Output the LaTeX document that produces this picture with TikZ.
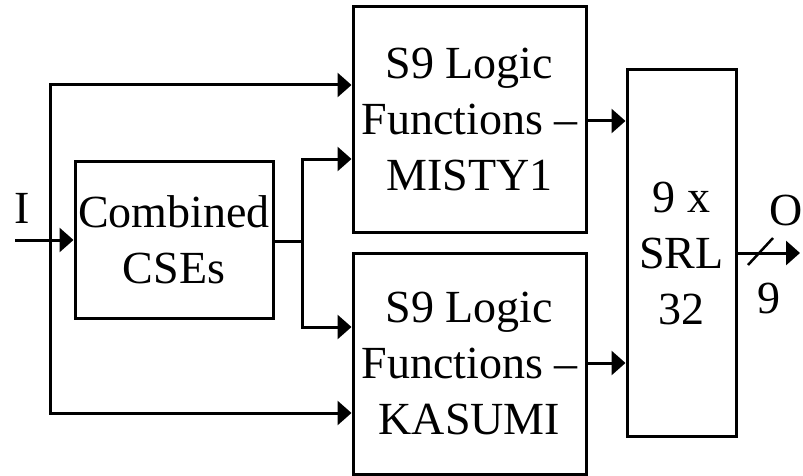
\documentclass[tikz,border=0pt]{standalone}
\usepackage{fontspec}
\setmainfont{Liberation Serif}
\usetikzlibrary{arrows.meta}
\begin{document}
\begin{tikzpicture}[x=1pt,y=-1pt,
  line width=3pt,
  font=\fontsize{46}{56}\selectfont,
  blk/.style={draw, rectangle, inner sep=0pt, align=center},
  arr/.style={-{Triangle[length=14pt,width=24pt]}},
  lbl/.style={inner sep=0pt}]
\useasboundingbox (0,0) rectangle (803,476);

% processing blocks
\node[blk, minimum width=198pt, minimum height=157pt] (cse) at (174,239.5) {Combined\\CSEs};
\node[blk, minimum width=233pt, minimum height=225pt] (misty) at (469.5,119.5) {S9 Logic\\Functions --\\MISTY1};
\node[blk, minimum width=233pt, minimum height=221pt] (kasumi) at (469.5,363.5) {S9 Logic\\Functions --\\KASUMI};
\node[blk, minimum width=109pt, minimum height=366pt] (srl) at (681.5,253) {9 x\\SRL\\32};

% input side
\coordinate (in) at (15,240);
\coordinate (fork) at (50,240);
\coordinate (top) at (50,85);
\coordinate (bot) at (50,413);
\node[lbl] (ilbl) at (22,208) {I};
\draw[arr] (in) -- (cse.west |- in);
\draw[arr] (fork) -- (top) -- (misty.west |- top);
\draw[arr] (fork) -- (bot) -- (kasumi.west |- bot);

% combined CSE outputs
\coordinate (cout) at (302,241);
\coordinate (cup) at (302,159);
\coordinate (cdn) at (302,327);
\draw (cse.east |- cout) -- (cout);
\draw[arr] (cout) -- (cup) -- (misty.west |- cup);
\draw[arr] (cout) -- (cdn) -- (kasumi.west |- cdn);

% into the shift registers
\coordinate (m) at (586,121);
\coordinate (k) at (586,363);
\draw[arr] (misty.east |- m) -- (srl.west |- m);
\draw[arr] (kasumi.east |- k) -- (srl.west |- k);

% 9-bit output bus
\coordinate (out) at (800,253);
\draw[arr] (srl.east |- out) -- (out);
\coordinate (s1) at (748,265);
\coordinate (s2) at (773,238);
\draw[line width=2.5pt] (s1) -- (s2);
\node[lbl] (olbl) at (786,210) {O};
\node[lbl] (wlbl) at (769,298) {9};
\end{tikzpicture}
\end{document}
